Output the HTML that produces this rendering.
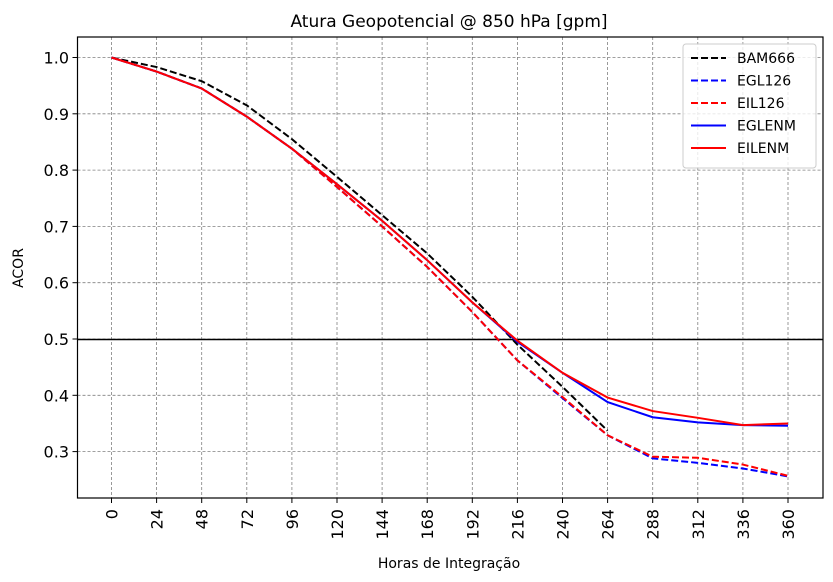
<!DOCTYPE html>
<html><head><meta charset="utf-8"><style>
body{margin:0;background:#fff}
svg{display:block;font-family:"DejaVu Sans","Liberation Sans",sans-serif}
</style></head><body>
<svg id="chart" width="833" height="582">
<text x="449" y="27" font-size="17" text-anchor="middle">Atura Geopotencial @ 850 hPa [gpm]</text>
<g id="grid"></g>
<g id="ticks"></g>
<line x1="77.5" x2="823" y1="339.5" y2="339.5" stroke="#000" stroke-width="1.5"/>
<g id="series"></g>
<rect x="77.5" y="37" width="745.5" height="461" fill="none" stroke="#000" stroke-width="1.2"/>
<text x="449" y="568" font-size="14" text-anchor="middle">Horas de Integração</text>
<text transform="translate(23,268) rotate(-90)" font-size="14" text-anchor="middle">ACOR</text>
<g>
<rect x="683" y="44" width="133" height="124" rx="3" fill="#fff" fill-opacity="0.8" stroke="#ccc"/>
<g id="legend-items"></g>
</g>
</svg>
<script>
const hours=[0,24,48,72,96,120,144,168,192,216,240,264,288,312,336,360];
const yTicks=[0.3,0.4,0.5,0.6,0.7,0.8,0.9,1.0];
const seriesNames=["BAM666","EGL126","EIL126","EGLENM","EILENM"];
const bam666=[1.0,0.983,0.958,0.915,0.855,0.788,0.72,0.652,0.575,0.49,0.415,0.337];
const egl126=[1.0,0.975,0.945,0.895,0.838,0.77,0.70,0.628,0.548,0.462,0.395,0.329,0.288,0.28,0.27,0.256];
const eil126=[1.0,0.975,0.945,0.895,0.838,0.77,0.70,0.628,0.548,0.462,0.397,0.329,0.291,0.289,0.277,0.257];
const eglenm=[1.0,0.975,0.945,0.895,0.838,0.775,0.71,0.64,0.565,0.495,0.44,0.388,0.361,0.352,0.347,0.346];
const eilenm=[1.0,0.975,0.945,0.895,0.838,0.775,0.71,0.64,0.565,0.497,0.44,0.396,0.372,0.36,0.347,0.35];
const NS="http://www.w3.org/2000/svg";
const X=h=>111.5+(h/24)*45.1;
const Y=v=>57.5+(1.0-v)*563;
function mk(t,a,p){const e=document.createElementNS(NS,t);for(const k in a)e.setAttribute(k,a[k]);p.appendChild(e);return e;}
const grid=document.getElementById('grid'),ticks=document.getElementById('ticks');
hours.forEach(h=>{
 const g=mk('line',{x1:X(h),x2:X(h),y1:37,y2:498,stroke:'#808080','stroke-width':0.8,'stroke-dasharray':'3,2'},grid);
 
 
 mk('line',{x1:X(h),x2:X(h),y1:498,y2:503,stroke:'#000'},ticks);
 const t=mk('text',{transform:`translate(${X(h)+6},509) rotate(-90)`,'font-size':16,'text-anchor':'end'},ticks);
 t.textContent=h;
 
 
});
yTicks.forEach(v=>{
 const g=mk('line',{x1:77.5,x2:823,y1:Y(v),y2:Y(v),stroke:'#808080','stroke-width':0.8,'stroke-dasharray':'3,2'},grid);
 
 
 mk('line',{x1:72.5,x2:77.5,y1:Y(v),y2:Y(v),stroke:'#000'},ticks);
 const t=mk('text',{x:69,y:Y(v)+6,'font-size':16,'text-anchor':'end'},ticks);
 t.textContent=v.toFixed(1);
 
 
});
const data=[bam666,egl126,eil126,eglenm,eilenm];
const colors=['#000','#0000ff','#ff0000','#0000ff','#ff0000'];
const dashed=[true,true,true,false,false];
const sg=document.getElementById('series'),lg=document.getElementById('legend-items');
data.forEach((vals,i)=>{
 const pts=vals.map((v,j)=>X(hours[j])+','+Y(v)).join(' ');
 const p=mk('polyline',{points:pts,fill:'none',stroke:colors[i],'stroke-width':2,'stroke-dasharray':dashed[i]?'7,3':'none'},sg);
 
 
 const ly=58+i*22.5;
 const l=mk('line',{x1:691,x2:726,y1:ly,y2:ly,stroke:colors[i],'stroke-width':2,'stroke-dasharray':dashed[i]?'7,3':'none'},lg);
 
 
 const t=mk('text',{x:737,y:ly+5,'font-size':14},lg);
 t.textContent=seriesNames[i];
 
 
});
</script>
</body></html>
